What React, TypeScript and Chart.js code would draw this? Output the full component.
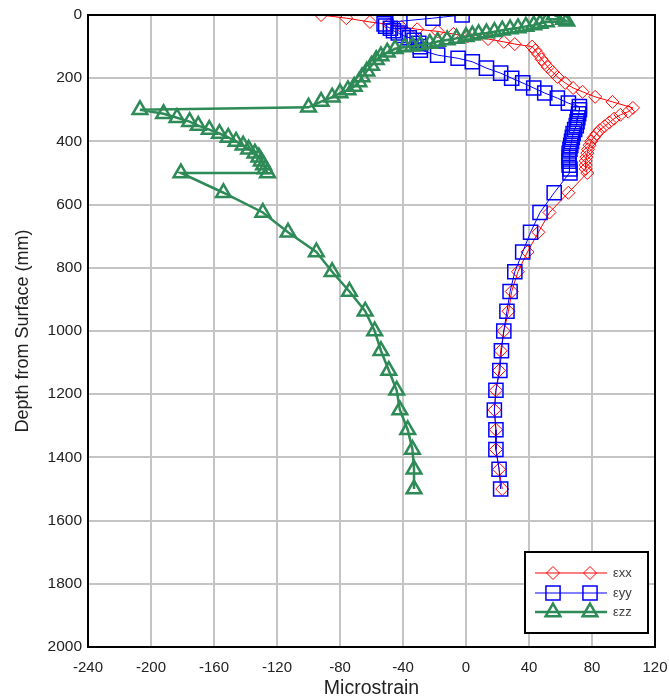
import React, { useEffect, useRef } from 'react';
import { Chart, registerables } from 'chart.js';

Chart.register(...registerables);

// ---- axis settings ----
const xMin = -240;
const xMax = 120;
const xStep = 40;
const yMin = 0;
const yMax = 2000;
const yStep = 200;

// ---- series names ----
const seriesNames = ['εxx', 'εyy', 'εzz'];

// ---- εxx (depth mm, microstrain) ----
const exxDepth = [
  0, 10, 22, 30, 38, 45, 52, 60, 68, 76, 85, 92, 100, 112, 125, 140, 152, 165, 180, 196, 215, 231, 243, 259, 275, 294,
  306, 316, 328, 340, 352, 364, 376, 388, 400, 412, 425, 437, 450, 462, 475, 487, 500,
  562.5, 625, 687.5, 750, 812.5, 875, 937.5, 1000, 1062.5, 1125, 1187.5, 1250, 1312.5, 1375, 1437.5, 1500,
];
const exxStrain = [
  -92, -76, -61, -49, -41, -31, -18, -8, 1, 14, 24, 31, 42, 44, 46, 48, 50, 52, 55, 58, 63, 68, 74, 82, 93, 106,
  103, 98, 94, 91, 88, 85, 83, 81, 79.5, 78.5, 77.5, 77, 76.5, 76, 76, 76, 77,
  65, 53, 46, 39, 33, 29, 27, 24, 22, 21, 19, 18, 19, 19, 21, 23,
];

// ---- εyy ----
const eyyDepth = [
  0, 10, 20, 28, 35, 42, 50, 57, 65, 72, 80, 90, 100, 111, 127, 137, 148, 168, 184, 200, 215, 231, 247, 263, 279, 290, 300,
  312.5, 325, 337.5, 350, 362.5, 375, 387.5, 400, 412.5, 425, 437.5, 450, 462.5, 475, 487.5, 500,
  562.5, 625, 687.5, 750, 812.5, 875, 937.5, 1000, 1062.5, 1125, 1187.5, 1250, 1312.5, 1375, 1437.5, 1500,
];
const eyyStrain = [
  -2.5, -21, -42, -52, -51, -48, -46, -43, -40, -36, -33, -30, -29, -29, -18, -5, 4, 13, 22, 29, 36, 43, 50, 58, 65, 72, 72,
  71.5, 71, 70.5, 70, 69, 68, 67.5, 67, 66.5, 66, 65.5, 65.5, 65.5, 65.5, 66, 66,
  56, 47, 41, 36, 31, 28, 26, 24, 22.5, 21.5, 19, 18, 19, 19, 21, 22,
];

// ---- εzz ----
const ezzDepth = [
  0, 14, 20, 22, 27, 32, 36, 41, 44, 48, 53, 57, 60, 64, 69, 74, 79, 84, 90, 95, 99, 101, 107, 118, 130, 142, 160, 178, 196, 212, 226, 237, 247, 260, 274, 292,
  300, 312.5, 325, 337.5, 350, 362.5, 375, 387.5, 400, 412.5, 425, 437.5, 450, 462.5, 475, 487.5, 500,
  500,
  562.5, 625, 687.5, 750, 812.5, 875, 937.5, 1000, 1062.5, 1125, 1187.5, 1250, 1312.5, 1375, 1437.5, 1500,
];
const ezzStrain = [
  56, 62, 64, 51, 47, 43, 38, 33, 28, 23, 18, 13, 8, 4, 0, -6, -12, -18, -23, -29, -34, -39, -45, -50, -54, -57, -60, -63, -66, -68, -71, -75, -80, -85, -92, -100,
  -207, -192, -183.5, -175.5, -170, -163, -156.5, -151, -146, -141.5, -138, -134, -131.5, -130, -128.5, -127.5, -126,
  -181,
  -154, -129, -113, -95, -85, -74, -64, -58, -54, -49, -44, -42, -37, -34, -33, -33,
];

const RED = '#FF0000';
const BLUE = '#0000FF';
const GREEN = '#2E8B57';
const FONT = "Arial, 'Liberation Sans', sans-serif";

function toPoints(xs: number[], ds: number[]) {
  return xs.map((x, i) => ({ x, y: ds[i] }));
}

function drawMarker(ctx: CanvasRenderingContext2D, style: string, x: number, y: number, r: number) {
  ctx.beginPath();
  if (style === 'rectRot') {
    ctx.moveTo(x - r, y);
    ctx.lineTo(x, y - r);
    ctx.lineTo(x + r, y);
    ctx.lineTo(x, y + r);
    ctx.closePath();
  } else if (style === 'rect') {
    const s = r * Math.SQRT1_2;
    ctx.rect(x - s, y - s, 2 * s, 2 * s);
  } else {
    ctx.moveTo(x, y - r);
    ctx.lineTo(x + r * Math.sin((2 * Math.PI) / 3), y - r * Math.cos((2 * Math.PI) / 3));
    ctx.lineTo(x - r * Math.sin((2 * Math.PI) / 3), y - r * Math.cos((2 * Math.PI) / 3));
    ctx.closePath();
  }
  ctx.stroke();
}

const framePlugin = {
  id: 'frame',
  afterDatasetsDraw(chart: any) {
    const { ctx, chartArea: a } = chart;
    ctx.save();
    ctx.strokeStyle = '#000';
    ctx.lineWidth = 2;
    ctx.strokeRect(a.left, a.top, a.right - a.left, a.bottom - a.top);
    ctx.restore();
  },
};

const legendPlugin = {
  id: 'boxLegend',
  afterDraw(chart: any) {
    const { ctx, chartArea: a } = chart;
    const bx = a.right - 130;
    const by = a.bottom - 95;
    const bw = 123;
    const bh = 81;
    ctx.save();
    ctx.fillStyle = '#fff';
    ctx.fillRect(bx, by, bw, bh);
    ctx.strokeStyle = '#000';
    ctx.lineWidth = 2;
    ctx.strokeRect(bx, by, bw, bh);
    const rows = [21, 41, 60];
    chart.data.datasets.forEach((ds: any, i: number) => {
      const y = by + rows[i];
      ctx.strokeStyle = ds.borderColor;
      ctx.lineWidth = ds.borderWidth;
      ctx.beginPath();
      ctx.moveTo(bx + 10, y);
      ctx.lineTo(bx + 82, y);
      ctx.stroke();
      ctx.lineWidth = ds.pointBorderWidth;
      drawMarker(ctx, ds.pointStyle, bx + 28, y, ds.pointRadius);
      drawMarker(ctx, ds.pointStyle, bx + 65, y, ds.pointRadius);
      ctx.fillStyle = '#404040';
      ctx.font = `13px ${FONT}`;
      ctx.textAlign = 'left';
      ctx.textBaseline = 'middle';
      ctx.fillText(ds.label, bx + 88, y);
    });
    ctx.restore();
  },
};

export default function App() {
  const ref = useRef<HTMLCanvasElement>(null);

  useEffect(() => {
    if (!ref.current) return;
    const chart = new Chart(ref.current, {
      type: 'scatter',
      data: {
        datasets: [
          {
            label: seriesNames[0],
            data: toPoints(exxStrain, exxDepth),
            showLine: true,
            borderColor: RED,
            borderWidth: 1,
            pointStyle: 'rectRot',
            pointRadius: 6.5,
            pointBorderWidth: 1,
            pointBorderColor: RED,
            pointBackgroundColor: 'rgba(0,0,0,0)',
            tension: 0,
            order: 3,
          },
          {
            label: seriesNames[1],
            data: toPoints(eyyStrain, eyyDepth),
            showLine: true,
            borderColor: BLUE,
            borderWidth: 1,
            pointStyle: 'rect',
            pointRadius: 10,
            pointBorderWidth: 1.5,
            pointBorderColor: BLUE,
            pointBackgroundColor: 'rgba(0,0,0,0)',
            tension: 0,
            order: 2,
          },
          {
            label: seriesNames[2],
            data: toPoints(ezzStrain, ezzDepth),
            showLine: true,
            borderColor: GREEN,
            borderWidth: 2.5,
            pointStyle: 'triangle',
            pointRadius: 8.5,
            pointBorderWidth: 2.5,
            pointBorderColor: GREEN,
            pointBackgroundColor: 'rgba(0,0,0,0)',
            tension: 0,
            order: 1,
          },
        ] as any,
      },
      options: {
        responsive: false,
        animation: false,
        layout: { padding: { left: 0, right: 14, top: 15, bottom: 0 } },
        plugins: {
          legend: { display: false },
          tooltip: { enabled: false },
        },
        scales: {
          x: {
            type: 'linear',
            position: 'bottom',
            min: xMin,
            max: xMax,
            ticks: {
              stepSize: xStep,
              padding: 12,
              color: '#222',
              font: { family: FONT, size: 15 },
              callback: (v: any) => String(v),
            },
            grid: { color: '#c4c4c4', lineWidth: 2, drawTicks: false },
            border: { color: '#000', width: 2 },
            title: {
              display: true,
              text: 'Microstrain',
              color: '#222',
              font: { family: FONT, size: 19.5 },
              padding: { top: 0, bottom: 0 },
            },
            afterFit: (s: any) => {
              s.height = 53;
              s.paddingLeft = 0;
              s.paddingRight = 0;
            },
          },
          y: {
            type: 'linear',
            reverse: true,
            min: yMin,
            max: yMax,
            ticks: {
              stepSize: yStep,
              padding: 6,
              color: '#222',
              font: { family: FONT, size: 15.5 },
              callback: (v: any) => String(v),
            },
            grid: { color: '#c4c4c4', lineWidth: 2, drawTicks: false },
            border: { color: '#000', width: 2 },
            title: {
              display: true,
              text: 'Depth from Surface (mm)',
              color: '#222',
              font: { family: FONT, size: 18 },
              padding: { top: 12, bottom: 0 },
            },
            afterFit: (s: any) => {
              s.width = 88;
              s.paddingTop = 0;
              s.paddingBottom = 0;
            },
          },
        },
      } as any,
      plugins: [framePlugin, legendPlugin],
    });
    return () => chart.destroy();
  }, []);

  return (
    <div style={{ position: 'absolute', left: 0, top: 0, width: 669, height: 700, background: '#fff' }}>
      <canvas ref={ref} width={669} height={700} style={{ display: 'block' }} />
    </div>
  );
}
